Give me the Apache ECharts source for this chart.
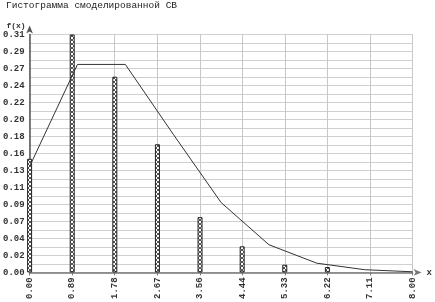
<!DOCTYPE html>
<html>
<head>
<meta charset="utf-8">
<script src="https://cdn.jsdelivr.net/npm/echarts@6/dist/echarts.min.js"></script>
<style>
html,body{margin:0;padding:0;background:#fff;}
#chart{width:435px;height:302px;}
</style>
</head>
<body>
<div id="chart"></div>
<script>
// ---- data ----
var titleText = 'Гистограмма смоделированной СВ';
var xTickLabels = ['0.00','0.89','1.78','2.67','3.56','4.44','5.33','6.22','7.11','8.00'];
var yTickLabels = ['0.00','0.02','0.04','0.07','0.09','0.11','0.13','0.16','0.18','0.20','0.22','0.24','0.27','0.29','0.31'];
var barX = [0, 0.89, 1.78, 2.67, 3.56, 4.44, 5.33, 6.22];
var barY = [0.148, 0.310, 0.255, 0.167, 0.072, 0.034, 0.010, 0.007];
var lineX = [0, 1, 2, 3, 4, 5, 6, 7, 8];
var lineY = [0.138, 0.271, 0.271, 0.180, 0.091, 0.036, 0.012, 0.0035, 0.0008];

var xMax = 8, yMax = 0.31;
var xStep = xMax / (xTickLabels.length - 1);
var yStep = yMax / (yTickLabels.length - 1);

// hatch pattern for bars
var pat = document.createElement('canvas');
pat.width = 4; pat.height = 4;
var pc = pat.getContext('2d');
pc.fillStyle = '#ffffff'; pc.fillRect(0,0,4,4);
pc.fillStyle = '#555555';
[[0,0],[1,1],[2,2],[3,3],[3,0],[2,1],[1,2],[0,3]].forEach(function(p){ pc.fillRect(p[0],p[1],1,1); });

var mono = 'Liberation Mono';
var chart = echarts.init(document.getElementById('chart'), null, {renderer:'canvas'});
chart.setOption({
  animation: false,
  backgroundColor: '#ffffff',
  title: {
    text: titleText, left: 6, top: 0, padding: 0,
    textStyle: {fontFamily: mono, fontSize: 9.5, fontWeight: 'normal', color: '#222'}
  },
  grid: {left: 28, right: 21, top: 34.5, bottom: 29.3, containLabel: false},
  xAxis: {
    type: 'value', min: 0, max: xMax, interval: xStep,
    name: 'x', nameLocation: 'end', nameGap: 14,
    nameTextStyle: {fontFamily: mono, fontSize: 9, fontWeight: 'bold', color: '#333', padding: [10,0,0,0]},
    axisLine: {show: true, onZero: false, symbol: ['none','arrow'], symbolSize: [5,8], symbolOffset: [0,9],
      lineStyle: {color: '#777', width: 1.5}},
    axisTick: {show: true, length: 3, lineStyle: {color: '#777'}},
    axisLabel: {rotate: 90, margin: 5, fontFamily: mono, fontSize: 9, fontWeight: 'bold', color: '#333',
      formatter: function(v){ var i = Math.round(v / xStep); return xTickLabels[i] || ''; }},
    splitLine: {show: true, lineStyle: {color: '#c8c8c8', width: 1}}
  },
  yAxis: {
    type: 'value', min: 0, max: yMax, interval: yStep,
    name: 'f(x)', nameLocation: 'end', nameGap: 5,
    nameTextStyle: {fontFamily: mono, fontSize: 8, fontWeight: 'bold', color: '#333', align: 'right', verticalAlign: 'bottom', padding: [0,4,0,0]},
    axisLine: {show: true, symbol: ['none','arrow'], symbolSize: [5,8], symbolOffset: [0,9],
      lineStyle: {color: '#555', width: 1.5}},
    axisTick: {show: false},
    axisLabel: {margin: 5, fontFamily: mono, fontSize: 9, fontWeight: 'bold', color: '#333',
      formatter: function(v){ var i = Math.round(v / yStep); return yTickLabels[i] || ''; }},
    splitLine: {show: true, lineStyle: {color: '#d0d0d0', width: 1}},
    minorTick: {show: false, splitNumber: 2},
    minorSplitLine: {show: true, lineStyle: {color: '#d0d0d0', width: 1}}
  },
  series: [
    {
      type: 'bar', barWidth: 5,
      data: barX.map(function(x,i){ return [x, barY[i]]; }),
      itemStyle: {color: {image: pat, repeat: 'repeat'}, borderColor: '#222', borderWidth: 1}
    },
    {
      type: 'line', showSymbol: false, symbol: 'none',
      data: lineX.map(function(x,i){ return [x, lineY[i]]; }),
      lineStyle: {color: '#333', width: 1}
    }
  ]
});
</script>
</body>
</html>
